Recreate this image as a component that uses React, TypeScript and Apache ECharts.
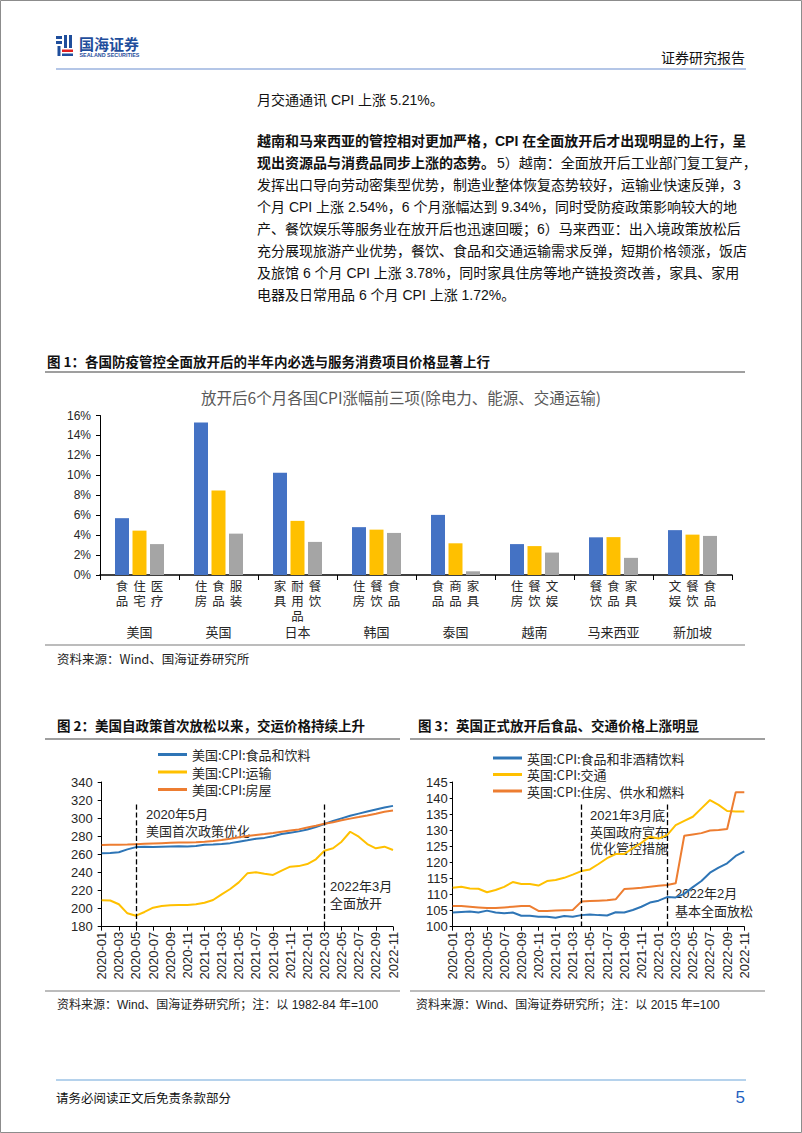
import React, { useEffect, useRef } from 'react';
import * as echarts from 'echarts';

const CJK = '"Noto Sans CJK SC", sans-serif';
const MIX = '"Liberation Sans", Arial, "Noto Sans CJK SC", sans-serif';

// ---------- Figure 1 data ----------
const countries = ['美国', '英国', '日本', '韩国', '泰国', '越南', '马来西亚', '新加坡'];
const item1 = ['食品', '住房', '家具', '住房', '食品', '住房', '餐饮', '文娱'];
const item2 = ['住宅', '食品', '耐用品', '餐饮', '商品', '餐饮', '食品', '餐饮'];
const item3 = ['医疗', '服装', '餐饮', '食品', '家具', '文娱', '家具', '食品'];
const top1 = [5.7, 15.3, 10.25, 4.8, 6.03, 3.1, 3.78, 4.5];
const top2 = [4.45, 8.47, 5.43, 4.55, 3.18, 2.9, 3.8, 4.05];
const top3 = [3.1, 4.15, 3.32, 4.22, 0.37, 2.25, 1.72, 3.92];
const fig1Y = { min: 0, max: 16, interval: 2 };

// ---------- Figure 2 / 3 data ----------
const months = [
  '2020-01', '2020-02', '2020-03', '2020-04', '2020-05', '2020-06', '2020-07', '2020-08', '2020-09', '2020-10', '2020-11', '2020-12',
  '2021-01', '2021-02', '2021-03', '2021-04', '2021-05', '2021-06', '2021-07', '2021-08', '2021-09', '2021-10', '2021-11', '2021-12',
  '2022-01', '2022-02', '2022-03', '2022-04', '2022-05', '2022-06', '2022-07', '2022-08', '2022-09', '2022-10', '2022-11',
];

const usNames = ['美国:CPI:食品和饮料', '美国:CPI:运输', '美国:CPI:房屋'];
const usFood = [
  261.2, 261.5, 262.4, 265.5, 268.0, 268.4, 268.2, 268.5, 268.8, 269.0, 268.8, 269.2,
  270.6, 271.0, 271.5, 272.4, 274.0, 275.5, 277.2, 278.2, 280.0, 282.4, 284.0, 285.4,
  287.4, 290.3, 293.6, 296.8, 299.8, 302.6, 305.0, 307.4, 309.6, 311.8, 313.6,
];
const usTransport = [
  209.2, 209.0, 204.8, 194.8, 192.2, 196.3, 201.0, 202.9, 203.6, 204.0, 204.0, 204.8,
  206.5, 209.5, 215.8, 221.7, 229.0, 239.0, 240.1, 238.6, 237.2, 242.0, 246.4, 247.0,
  249.3, 254.5, 264.0, 266.7, 274.0, 285.0, 279.5, 271.4, 266.7, 268.5, 264.8,
];
const usHousing = [
  270.3, 270.5, 270.7, 270.8, 271.2, 271.6, 272.0, 272.4, 272.7, 273.0, 273.2, 273.5,
  274.0, 274.8, 275.8, 277.2, 278.8, 280.2, 281.5, 282.5, 283.6, 285.0, 286.4, 287.6,
  289.6, 291.6, 293.8, 295.5, 297.6, 299.5, 301.2, 303.0, 305.0, 307.2, 308.6,
];
const fig2Y = { min: 180, max: 340, interval: 20 };

const ukNames = ['英国:CPI:食品和非酒精饮料', '英国:CPI:交通', '英国:CPI:住房、供水和燃料'];
const ukFood = [
  104.4, 104.6, 104.7, 104.4, 105.0, 104.4, 104.2, 104.4, 103.4, 103.4, 103.1, 103.1,
  102.8, 103.3, 103.1, 103.6, 103.8, 103.6, 103.5, 104.5, 104.4, 105.2, 106.2, 107.5,
  108.1, 109.2, 109.1, 110.2, 112.3, 114.2, 116.8, 118.4, 119.7, 122.0, 123.4,
];
const ukTransport = [
  112.1, 112.4, 111.9, 111.8, 110.7, 111.4, 112.4, 113.9, 113.3, 113.3, 112.8, 114.2,
  114.5, 115.2, 116.2, 117.3, 117.8, 119.5, 121.3, 122.6, 122.6, 124.4, 126.1, 128.0,
  127.4, 128.5, 131.6, 132.9, 134.2, 136.8, 139.4, 137.9, 136.0, 135.8, 135.8,
];
const ukHousing = [
  106.4, 106.4, 106.2, 106.0, 105.8, 105.8, 106.0, 106.2, 106.4, 106.4, 104.9, 104.9,
  105.0, 105.1, 105.2, 107.8, 108.0, 108.1, 108.2, 108.5, 111.7, 111.9, 112.1, 112.4,
  112.7, 113.0, 113.5, 128.3, 128.7, 129.1, 129.9, 130.1, 130.4, 141.8, 141.8,
];
const fig3Y = { min: 100, max: 145, interval: 5 };

// event markers
const usEvents = ['2020-05', '2022-03'];
const ukEvents = ['2021-04', '2022-02'];

const paragraph = [
  { t: '月交通通讯 CPI 上涨 5.21%。', y: 100 },
  { t: '越南和马来西亚的管控相对更加严格，CPI 在全面放开后才出现明显的上行，呈', y: 141, bold: true },
  { t: '现出资源品与消费品同步上涨的态势。', y: 163, bold: true, rest: '5）越南：全面放开后工业部门复工复产，' },
  { t: '发挥出口导向劳动密集型优势，制造业整体恢复态势较好，运输业快速反弹，3', y: 185 },
  { t: '个月 CPI 上涨 2.54%，6 个月涨幅达到 9.34%，同时受防疫政策影响较大的地', y: 207 },
  { t: '产、餐饮娱乐等服务业在放开后也迅速回暖；6）马来西亚：出入境政策放松后', y: 229 },
  { t: '充分展现旅游产业优势，餐饮、食品和交通运输需求反弹，短期价格领涨，饭店', y: 251 },
  { t: '及旅馆 6 个月 CPI 上涨 3.78%，同时家具住房等地产链投资改善，家具、家用', y: 273 },
  { t: '电器及日常用品 6 个月 CPI 上涨 1.72%。', y: 295 },
];

const BLUE = '#4472C4';
const GOLD = '#FFC000';
const GRAY = '#A5A5A5';
const L_BLUE = '#2E75B6';
const L_GOLD = '#FFC000';
const L_ORANGE = '#ED7D31';
const TXT = '#262626';

function vertical(s: string) {
  return s.split('').join('\n');
}

function txt(x: number, y: number, text: string, o: any = {}) {
  return {
    type: 'text',
    x,
    y,
    silent: true,
    style: {
      text,
      fontSize: o.fontSize || 13,
      fontFamily: o.fontFamily || MIX,
      fontWeight: o.fontWeight || 'normal',
      fill: o.fill || '#111',
      align: o.align || 'left',
      verticalAlign: 'middle',
    },
  };
}

function hline(x1: number, x2: number, y: number, stroke: string, lineWidth = 1.5) {
  return { type: 'line', silent: true, shape: { x1, y1: y, x2, y2: y }, style: { stroke, lineWidth } };
}

function rect(x: number, y: number, width: number, height: number, fill: string) {
  return { type: 'rect', silent: true, shape: { x, y, width, height }, style: { fill } };
}

function buildOption() {
  const graphics: any[] = [];
  // page border
  graphics.push({ type: 'rect', silent: true, shape: { x: 0.5, y: 0.5, width: 801, height: 1132 }, style: { fill: 'none', stroke: '#8c8c8c', lineWidth: 1 } });
  // logo
  graphics.push(rect(56, 36, 6, 3, '#1f4e9c'));
  graphics.push(rect(56, 41, 6, 3, '#1f4e9c'));
  graphics.push(rect(57.5, 46, 3, 10, '#1f4e9c'));
  graphics.push(rect(64, 35, 3, 13, '#1f4e9c'));
  graphics.push(rect(69, 35, 3, 13, '#1f4e9c'));
  graphics.push(rect(62, 49.5, 11, 2.5, '#e02020'));
  graphics.push(rect(62, 53.5, 11, 2.5, '#1f4e9c'));
  graphics.push(txt(79, 43, '国海证券', { fontSize: 15, fontWeight: 'bold', fill: '#1f4e9c', fontFamily: CJK }));
  graphics.push(txt(79.5, 54.5, 'SEALAND SECURITIES', { fontSize: 5.4, fontWeight: 'bold', fill: '#1f4e9c' }));
  graphics.push(txt(745, 57, '证券研究报告', { fontSize: 14, align: 'right', fontFamily: CJK, fill: '#111' }));
  graphics.push(hline(56, 746, 69, '#b4c6e7', 2));

  // paragraph
  paragraph.forEach((p) => {
    graphics.push(txt(257, p.y, p.t, { fontSize: 14, fontWeight: p.bold ? 'bold' : 'normal', fill: '#111' }));
    if (p.rest) {
      graphics.push(txt(257 + p.t.length * 14 + 2, p.y, p.rest, { fontSize: 14, fill: '#111' }));
    }
  });

  // figure 1 frame
  graphics.push(txt(47, 361, '图 1：各国防疫管控全面放开后的半年内必选与服务消费项目价格显著上行', { fontSize: 13.5, fontWeight: 'bold', fontFamily: CJK, fill: '#111' }));
  graphics.push(hline(45, 745, 372, '#7f7f7f', 1.5));
  graphics.push(txt(401, 397, '放开后6个月各国CPI涨幅前三项(除电力、能源、交通运输)', { fontSize: 15.5, align: 'center', fontFamily: CJK, fill: '#595959' }));
  graphics.push(hline(45, 745, 645, '#a6a6a6', 1.5));
  graphics.push(txt(57, 658, '资料来源：Wind、国海证券研究所', { fontSize: 12.5, fontFamily: CJK, fill: '#222' }));

  // figure 2 frame
  graphics.push(txt(57, 725, '图 2：美国自政策首次放松以来，交运价格持续上升', { fontSize: 13.5, fontWeight: 'bold', fontFamily: CJK, fill: '#111' }));
  graphics.push(hline(45, 400, 739, '#7f7f7f', 1.5));
  graphics.push(txt(146, 814, '2020年5月', { fontSize: 13, fill: TXT }));
  graphics.push(txt(146, 830, '美国首次政策优化', { fontSize: 13, fontFamily: CJK, fill: TXT }));
  graphics.push(txt(330, 886, '2022年3月', { fontSize: 13, fill: TXT }));
  graphics.push(txt(330, 902, '全面放开', { fontSize: 13, fontFamily: CJK, fill: TXT }));
  graphics.push(hline(45, 400, 991, '#a6a6a6', 1.5));
  graphics.push(txt(57, 1005, '资料来源：Wind、国海证券研究所；注：以 1982-84 年=100', { fontSize: 12, fill: '#222' }));

  // figure 3 frame
  graphics.push(txt(418, 725, '图 3：英国正式放开后食品、交通价格上涨明显', { fontSize: 13.5, fontWeight: 'bold', fontFamily: CJK, fill: '#111' }));
  graphics.push(hline(410, 765, 739, '#7f7f7f', 1.5));
  graphics.push(txt(590, 815, '2021年3月底', { fontSize: 13, fill: TXT }));
  graphics.push(txt(590, 831, '英国政府宣布', { fontSize: 13, fontFamily: CJK, fill: TXT }));
  graphics.push(txt(590, 847, '优化管控措施', { fontSize: 13, fontFamily: CJK, fill: TXT }));
  graphics.push(txt(675, 893, '2022年2月', { fontSize: 13, fill: TXT }));
  graphics.push(txt(675, 910, '基本全面放松', { fontSize: 13, fontFamily: CJK, fill: TXT }));
  graphics.push(hline(410, 765, 991, '#a6a6a6', 1.5));
  graphics.push(txt(416, 1005, '资料来源：Wind、国海证券研究所；注：以 2015 年=100', { fontSize: 12, fill: '#222' }));

  // footer
  graphics.push(hline(56, 746, 1080, '#9dc3e6', 1.5));
  graphics.push(txt(56, 1097, '请务必阅读正文后免责条款部分', { fontSize: 12.5, fontFamily: CJK, fill: '#111' }));
  graphics.push(txt(745, 1097, '5', { fontSize: 17, align: 'right', fill: '#1f5fbf' }));

  const axisLineBlack = { show: true, lineStyle: { color: '#000', width: 1 } };
  const items = [item1, item2, item3];
  const barLabel = (si: number) => ({
    show: true,
    position: 'bottom',
    distance: 3,
    formatter: (p: any) => vertical(items[si][p.dataIndex]),
    fontSize: 12.5,
    lineHeight: 15,
    fontFamily: CJK,
    color: TXT,
  });

  const dashed = { type: 'dashed', color: '#000', width: 1.3 };
  const mk = (idxs: number[], top: number, bottom: number) => ({
    silent: true,
    symbol: ['none', 'none'],
    label: { show: false },
    lineStyle: dashed,
    data: idxs.map((i) => [{ coord: [i, top] }, { coord: [i, bottom] }]),
  });

  const legendBase = {
    orient: 'vertical',
    icon: 'rect',
    itemWidth: 29,
    itemHeight: 3,
    itemGap: 2.5,
    padding: 0,
    selectedMode: false,
    textStyle: { fontSize: 13, fontFamily: CJK, color: TXT, lineHeight: 15 },
  };

  const lineSeries = (name: string, data: number[], color: string, axis: number, extra: any = {}) => ({
    name,
    type: 'line',
    xAxisIndex: axis,
    yAxisIndex: axis,
    data,
    symbol: 'none',
    lineStyle: { color, width: 2 },
    itemStyle: { color },
    z: 3,
    ...extra,
  });

  return {
    animation: false,
    backgroundColor: '#fff',
    textStyle: { fontFamily: MIX },
    graphic: graphics,
    legend: [
      { ...legendBase, data: usNames, left: 158, top: 747 },
      { ...legendBase, data: ukNames, left: 493, top: 750.5, itemGap: 1.5 },
    ],
    grid: [
      { left: 100, top: 415.5, width: 632, height: 159.5 },
      { left: 101.7, top: 782, width: 291.3, height: 144.7 },
      { left: 452.7, top: 782, width: 291.6, height: 144.7 },
    ],
    xAxis: [
      {
        gridIndex: 0,
        type: 'category',
        data: countries,
        axisLine: { show: true, lineStyle: { color: '#000', width: 1.5 } },
        axisTick: { show: true, length: 5, lineStyle: { color: '#000' } },
        axisLabel: { margin: 50, fontSize: 13, fontFamily: CJK, color: TXT },
      },
      {
        gridIndex: 1,
        type: 'category',
        data: months,
        boundaryGap: false,
        axisLine: axisLineBlack,
        axisTick: { show: true, interval: 1, length: 4, lineStyle: { color: '#000' } },
        axisLabel: { interval: 1, rotate: 90, fontSize: 13, color: TXT, margin: 5 },
      },
      {
        gridIndex: 2,
        type: 'category',
        data: months,
        boundaryGap: false,
        axisLine: axisLineBlack,
        axisTick: { show: true, interval: 1, length: 4, lineStyle: { color: '#000' } },
        axisLabel: { interval: 1, rotate: 90, fontSize: 13, color: TXT, margin: 5 },
      },
    ],
    yAxis: [
      {
        gridIndex: 0,
        type: 'value',
        ...fig1Y,
        axisLine: axisLineBlack,
        axisTick: { show: true, length: 4, lineStyle: { color: '#000' } },
        splitLine: { show: false },
        axisLabel: { formatter: '{value}%', fontSize: 12, color: TXT, margin: 9 },
      },
      {
        gridIndex: 1,
        type: 'value',
        ...fig2Y,
        axisLine: axisLineBlack,
        axisTick: { show: true, length: 4, lineStyle: { color: '#000' } },
        splitLine: { show: false },
        axisLabel: { fontSize: 13, color: TXT, margin: 9 },
      },
      {
        gridIndex: 2,
        type: 'value',
        ...fig3Y,
        axisLine: axisLineBlack,
        axisTick: { show: true, length: 3, lineStyle: { color: '#000' } },
        splitLine: { show: false },
        axisLabel: { fontSize: 13, color: TXT, margin: 5 },
      },
    ],
    series: [
      { type: 'bar', xAxisIndex: 0, yAxisIndex: 0, data: top1, barWidth: 14, barGap: '25%', itemStyle: { color: BLUE }, label: barLabel(0) },
      { type: 'bar', xAxisIndex: 0, yAxisIndex: 0, data: top2, barWidth: 14, barGap: '25%', itemStyle: { color: GOLD }, label: barLabel(1) },
      { type: 'bar', xAxisIndex: 0, yAxisIndex: 0, data: top3, barWidth: 14, barGap: '25%', itemStyle: { color: GRAY }, label: barLabel(2) },
      lineSeries(usNames[0], usFood, L_BLUE, 1, { markLine: mk(usEvents.map((m) => months.indexOf(m)), 315, 180) }),
      lineSeries(usNames[1], usTransport, L_GOLD, 1),
      lineSeries(usNames[2], usHousing, L_ORANGE, 1),
      lineSeries(ukNames[0], ukFood, L_BLUE, 2, { markLine: mk(ukEvents.map((m) => months.indexOf(m)), 138, 100) }),
      lineSeries(ukNames[1], ukTransport, L_GOLD, 2),
      lineSeries(ukNames[2], ukHousing, L_ORANGE, 2),
    ],
  };
}

export default function App() {
  const ref = useRef<HTMLDivElement>(null);
  useEffect(() => {
    if (!ref.current) return;
    const chart = echarts.init(ref.current, null, { renderer: 'svg', width: 802, height: 1133 });
    chart.setOption(buildOption() as any);
    return () => chart.dispose();
  }, []);
  return (
    <div
      ref={ref}
      style={{ position: 'absolute', left: 0, top: 0, width: 802, height: 1133, background: '#fff' }}
    />
  );
}
